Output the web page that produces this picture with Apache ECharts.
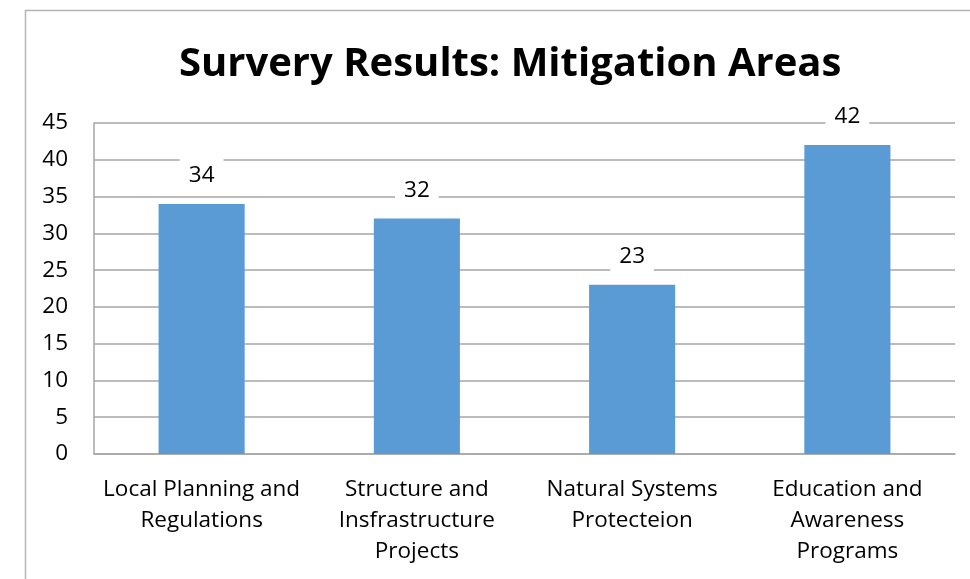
<!DOCTYPE html>
<html>
<head>
<meta charset="utf-8">
<script src="https://cdn.jsdelivr.net/npm/echarts@6/dist/echarts.min.js"></script>
<style>
  html, body { margin: 0; padding: 0; background: #fff; }
  #chart { width: 970px; height: 579px; }
</style>
</head>
<body>
<div id="chart"></div>
<script>
// Survey responses per mitigation area
const categories = [
  'Local Planning and\nRegulations',
  'Structure and\nInsfrastructure\nProjects',
  'Natural Systems\nProtecteion',
  'Education and\nAwareness\nPrograms'
];
const responses = [34, 32, 23, 42];
const yTicks = { min: 0, max: 45, interval: 5 };

const FONT = '"Open Sans", "Noto Sans", sans-serif';

const chart = echarts.init(document.getElementById('chart'), null, { renderer: 'canvas' });

chart.setOption({
  backgroundColor: '#ffffff',
  animation: false,
  title: {
    text: 'Survery Results: Mitigation Areas',
    left: 174,
    top: 40,
    textStyle: { fontFamily: FONT, fontWeight: 'bold', fontSize: 40, color: '#000000' }
  },
  graphic: [{
    type: 'rect',
    shape: { x: 25.5, y: 10.5, width: 960, height: 600 },
    style: { fill: 'none', stroke: '#b4b4b4', lineWidth: 1.5 },
    silent: true
  }],
  grid: { left: 94, right: 15, top: 123, bottom: 125, containLabel: false },
  xAxis: {
    type: 'category',
    data: categories,
    axisLine: { show: true, lineStyle: { color: '#a6a6a6', width: 1.5 } },
    axisTick: { show: false },
    axisLabel: {
      interval: 0,
      margin: 20,
      fontFamily: FONT,
      fontSize: 22.5,
      lineHeight: 31,
      color: '#000000',
      align: 'center'
    }
  },
  yAxis: {
    type: 'value',
    min: yTicks.min,
    max: yTicks.max,
    interval: yTicks.interval,
    axisLine: { show: true, lineStyle: { color: '#a6a6a6', width: 1.5 } },
    axisTick: { show: false },
    axisLabel: { margin: 26, fontFamily: FONT, fontSize: 22.5, color: '#000000' },
    splitLine: { show: true, lineStyle: { color: '#a6a6a6', width: 1.5 } }
  },
  series: [{
    type: 'bar',
    data: responses,
    barWidth: '40%',
    itemStyle: { color: '#5b9bd5' },
    label: {
      show: true,
      position: 'top',
      distance: 8,
      fontFamily: FONT,
      fontSize: 22.5,
      lineHeight: 23,
      color: '#000000',
      backgroundColor: '#ffffff',
      padding: [9, 9]
    }
  }]
});
</script>
</body>
</html>
